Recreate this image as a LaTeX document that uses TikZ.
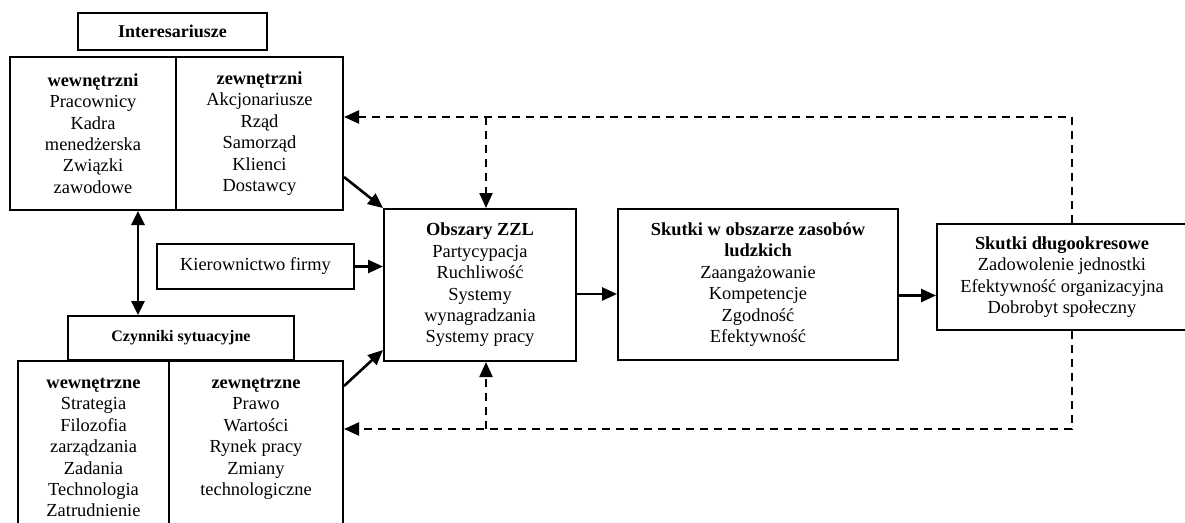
\documentclass[tikz,border=0pt]{standalone}
\usepackage{fontspec}
\setmainfont{Liberation Serif}
\usetikzlibrary{arrows.meta,positioning,calc}
\tikzset{
  box/.style={draw, line width=2pt},
  headfont/.style={font=\fontsize{18}{21}\selectfont\bfseries},
  arr/.style={-{Triangle[length=15pt,width=13pt]}, line width=2.6pt},
  feedback/.style={-{Triangle[length=15pt,width=13pt]}, line width=2.2pt, dash pattern=on 8pt off 6pt}
}

\begin{document}
\begin{tikzpicture}[x=1pt, y=-1pt, every node/.style={font=\fontsize{18.4}{21.4}\selectfont, align=center, inner sep=0pt}]
        \useasboundingbox (0,0) rectangle (1185,522);
        \clip (0,0) rectangle (1185,522);

        % Interesariusze (top left)
        \node[box, headfont, minimum width=189, minimum height=37] (inter) at (172.5,31.5)
            {Interesariusze};
        \node[box, minimum width=166, minimum height=153] (intW) at (93,133.5)
            {\textbf{wewnętrzni}\\Pracownicy\\Kadra\\menedżerska\\Związki\\zawodowe};
        \node[box, minimum width=167, minimum height=153] (intZ) at (259.5,133.5)
            {\textbf{zewnętrzni}\\Akcjonariusze\\Rząd\\Samorząd\\Klienci\\Dostawcy};

        % Kierownictwo firmy
        \node[box, minimum width=197, minimum height=45] (kier) at (255.5,266.5)
            {Kierownictwo firmy};

        % Czynniki sytuacyjne (bottom left)
        \node[box, font=\fontsize{16}{19}\selectfont\bfseries, minimum width=226, minimum height=44] (czyn) at (181,338)
            {Czynniki sytuacyjne};
        \node[box, minimum width=151, minimum height=200, anchor=north west] (czW) at (17,360) {};
        \node[box, minimum width=174, minimum height=200, anchor=north west] (czZ) at (168,360) {};
        \node[anchor=north] (czWtext) at ($(czW.north)+(0,18)$)
            {\textbf{wewnętrzne}\\Strategia\\Filozofia\\zarządzania\\Zadania\\Technologia\\Zatrudnienie};
        \node[anchor=north] (czZtext) at ($(czZ.north)+(0,18)$)
            {\textbf{zewnętrzne}\\Prawo\\Wartości\\Rynek pracy\\Zmiany\\technologiczne};

        % Obszary ZZL (center)
        \node[box, minimum width=192, minimum height=152] (zzl) at (480,285)
            {\textbf{Obszary ZZL}\\Partycypacja\\Ruchliwość\\Systemy\\wynagradzania\\Systemy pracy};

        % Skutki (right)
        \node[box, minimum width=280, minimum height=151] (skut) at (758,284.5)
            {\textbf{Skutki w obszarze zasobów}\\\textbf{ludzkich}\\Zaangażowanie\\Kompetencje\\Zgodność\\Efektywność};
        \node[box, minimum width=250, minimum height=106] (dlug) at (1062,277)
            {\textbf{Skutki długookresowe}\\Zadowolenie jednostki\\Efektywność organizacyjna\\Dobrobyt społeczny};

        % solid arrows
        \draw[arr, {Triangle[length=14pt,width=13pt]}-{Triangle[length=14pt,width=13pt]}]
            ([xshift=45pt]intW.south) -- ([xshift=45pt]intW.south |- czyn.north);
        \draw[arr] ($(intZ.south east)+(0,-34)$) -- (zzl.north west);
        \draw[arr] (kier) -- (kier -| zzl.west);
        \draw[arr] ($(czZ.north east)+(0,26)$) -- ($(zzl.south west)+(0,-12)$);
        \draw[arr] ([yshift=-9pt]zzl.east) -- ([yshift=-9pt]zzl.east -| skut.west);
        \draw[arr] ([yshift=-11pt]skut.east) -- ([yshift=-11pt]skut.east -| dlug.west);

        % feedback loops
        \coordinate (topline) at ([yshift=16.5pt]intZ.east);
        \coordinate (botline) at ([yshift=-69pt]czZ.north east);
        \draw[feedback] ([xshift=10pt]dlug.north) |- (topline);
        \draw[feedback] ([xshift=6pt]zzl.north |- topline) -- ([xshift=6pt]zzl.north);
        \draw[feedback] ([xshift=10pt]dlug.south) |- (botline);
        \draw[feedback] ([xshift=6pt]zzl.south |- botline) -- ([xshift=6pt]zzl.south);
    \end{tikzpicture}
\end{document}
